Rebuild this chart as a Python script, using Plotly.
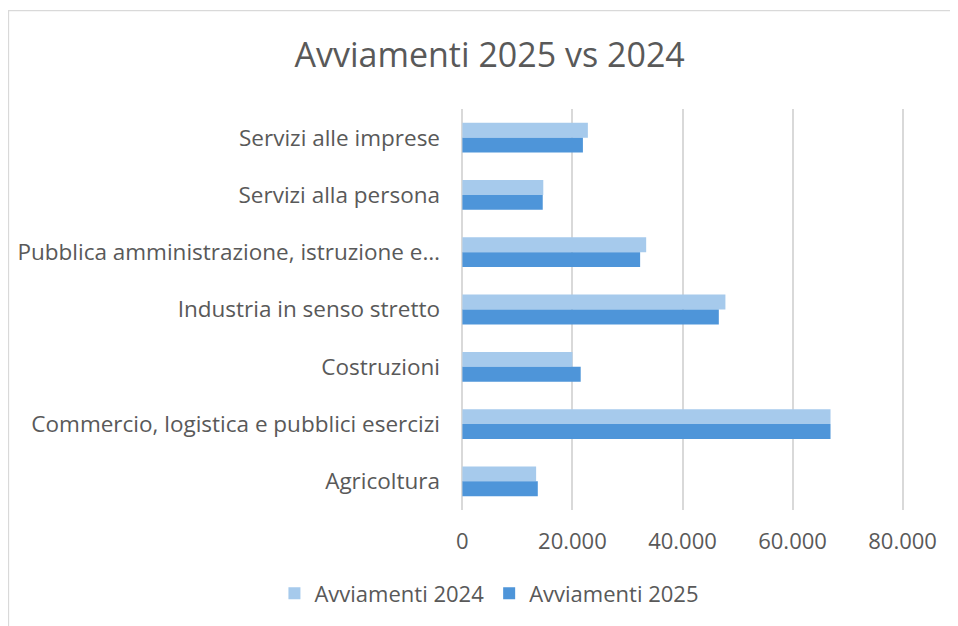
import plotly.graph_objects as go

# categories listed top to bottom as in the chart
categories = [
    "Servizi alle imprese",
    "Servizi alla persona",
    "Pubblica amministrazione, istruzione e…",
    "Industria in senso stretto",
    "Costruzioni",
    "Commercio, logistica e pubblici esercizi",
    "Agricoltura",
]
avviamenti_2024 = [22800, 14700, 33400, 47800, 20000, 66900, 13400]
avviamenti_2025 = [21900, 14600, 32300, 46600, 21500, 66900, 13700]

x_ticks = [0, 20000, 40000, 60000, 80000]

text_color = "#595959"
grid_color = "#D9D9D9"
font_family = "Open Sans, Lato, sans-serif"

fig = go.Figure()
fig.add_trace(go.Bar(
    y=categories, x=avviamenti_2024, orientation="h",
    name="Avviamenti 2024", marker=dict(color="#A6CAEC", line=dict(width=0)),
))
fig.add_trace(go.Bar(
    y=categories, x=avviamenti_2025, orientation="h",
    name="Avviamenti 2025", marker=dict(color="#4E95D9", line=dict(width=0)),
))

fig.update_layout(
    width=950, height=618,
    margin=dict(l=450, r=51, t=101, b=116),
    paper_bgcolor="white", plot_bgcolor="white",
    separators=",.",
    barmode="group", bargap=0.48, bargroupgap=0,
    font=dict(family=font_family, color=text_color, size=22),
    title=dict(text="Avviamenti 2025 vs 2024", x=0.507, xanchor="center",
               y=0.924, yanchor="middle",
               font=dict(size=34, color=text_color, family=font_family)),
    legend=dict(orientation="h", x=0.07, xanchor="center", y=-0.208, yanchor="middle",
                font=dict(size=22, color=text_color), itemwidth=30,
                traceorder="normal"),
    xaxis=dict(range=[-800, 80800], tickvals=x_ticks, tickformat=",d",
               showgrid=True, gridcolor=grid_color, gridwidth=1.5,
               zeroline=True, zerolinecolor=grid_color, zerolinewidth=1.5,
               showline=False, ticks="", ticklabelstandoff=16, automargin=False,
               tickfont=dict(size=22, color=text_color)),
    yaxis=dict(autorange="reversed", showgrid=False, zeroline=False, showline=False,
               ticks="", ticklabelstandoff=17, automargin=False,
               tickfont=dict(size=22.5, color=text_color)),
    shapes=[dict(type="rect", xref="paper", yref="paper",
                 x0=-1.001, x1=1.2, y0=-0.35, y1=1.2455,
                 line=dict(color=grid_color, width=1.2), layer="below")],
)

fig.write_html("out.html")
